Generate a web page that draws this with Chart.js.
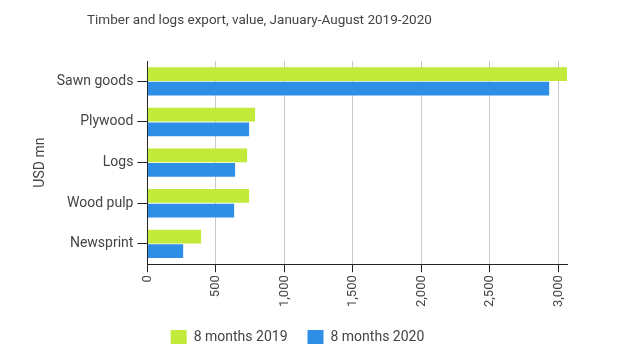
<!DOCTYPE html>
<html>
<head>
<meta charset="utf-8">
<script src="https://cdn.jsdelivr.net/npm/chart.js@4"></script>
<style>
  html, body { margin: 0; padding: 0; background: #fff; }
  #wrap { width: 621px; height: 359px; }
</style>
</head>
<body>
<div id="wrap"><canvas id="chart"></canvas></div>
<script>
var categories = ['Sawn goods', 'Plywood', 'Logs', 'Wood pulp', 'Newsprint'];
var values2019 = [3062, 786, 728, 742, 392];
var values2020 = [2932, 742, 640, 633, 261];
var seriesNames = ['8 months 2019', '8 months 2020'];
var xTickValues = [0, 500, 1000, 1500, 2000, 2500, 3000];
var chartTitle = 'Timber and logs export, value, January-August 2019-2020';

Chart.defaults.font.family = 'Roboto, "Liberation Sans", sans-serif';
Chart.defaults.color = '#444';

// title is drawn left of centre in the original, so draw it by hand
var titlePlugin = {
    id: 'leftTitle',
    afterDraw: function (chart) {
        var c = chart.ctx;
        c.save();
        c.font = '13.5px Roboto, sans-serif';
        c.fillStyle = '#444';
        c.textBaseline = 'middle';
        c.textAlign = 'left';
        c.fillText(chartTitle, 87, 21);
        c.restore();
    }
};

var ctx = document.getElementById('chart').getContext('2d');
var chart = new Chart(ctx, {
    type: 'bar',
    data: {
        labels: categories,
        datasets: [{
            label: seriesNames[0],
            data: values2019,
            backgroundColor: '#c2ea3b',
            categoryPercentage: 0.72,
            barPercentage: 0.94
        }, {
            label: seriesNames[1],
            data: values2020,
            backgroundColor: '#2f8ee6',
            categoryPercentage: 0.72,
            barPercentage: 0.94
        }]
    },
    options: {
        indexAxis: 'y',
        responsive: true,
        maintainAspectRatio: false,
        animation: false,
        layout: {
            padding: { left: 28, right: 54, top: 61, bottom: 5 }
        },
        scales: {
            x: {
                type: 'linear',
                min: 0,
                max: 3062,
                afterBuildTicks: function (axis) {
                    axis.ticks = xTickValues.map(function (v) { return { value: v }; });
                },
                ticks: {
                    autoSkip: false,
                    minRotation: 90,
                    maxRotation: 90,
                    font: { size: 13 },
                    color: '#444',
                    callback: function (v) { return v.toLocaleString('en-US'); }
                },
                grid: {
                    color: '#c8c8c8',
                    tickColor: '#222',
                    tickLength: 8
                },
                border: { color: '#222', width: 1 }
            },
            y: {
                ticks: { font: { size: 14 }, color: '#444', padding: 4 },
                grid: {
                    offset: false,
                    drawOnChartArea: false,
                    tickColor: '#222',
                    tickLength: 10
                },
                border: { color: '#222', width: 1 },
                title: {
                    display: true,
                    text: 'USD mn',
                    font: { size: 14 },
                    color: '#444'
                }
            }
        },
        plugins: {
            title: { display: false },
            legend: {
                position: 'bottom',
                labels: {
                    boxWidth: 16,
                    boxHeight: 14,
                    font: { size: 14 },
                    color: '#444',
                    padding: 20
                }
            },
            tooltip: { enabled: false }
        }
    },
    plugins: [titlePlugin]
});
</script>
</body>
</html>
